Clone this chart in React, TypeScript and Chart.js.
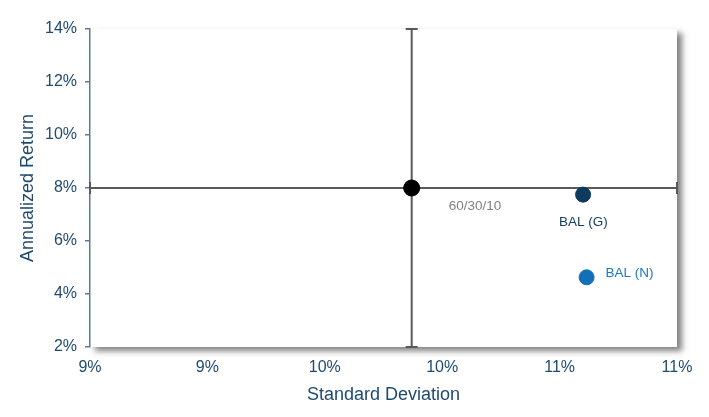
import React, { useEffect, useRef } from "react";
import { Chart, registerables } from "chart.js";

Chart.register(...registerables);

const seriesNames = ["60/30/10", "BAL (G)", "BAL (N)"];
const stdDev = [9.87, 10.6, 10.615];
const annReturn = [8.0, 7.75, 4.63];
const pointColors = ["#000000", "#0e3a5e", "#1270b8"];
const labelColors = ["#808080", "#173f62", "#1f78c0"];
// crosshair (error bar) extents for the 60/30/10 benchmark
const errX = [8.5, 11.0];
const errY = [2, 14];

const xMin = 8.5, xMax = 11.0, xStep = 0.5;
const yMin = 2, yMax = 14, yStep = 2;

const shadowPlugin = {
  id: "areaShadow",
  beforeDraw(chart: any) {
    const { ctx, chartArea } = chart;
    ctx.save();
    ctx.shadowColor = "rgba(0,0,0,0.5)";
    ctx.shadowBlur = 6;
    ctx.shadowOffsetX = 5;
    ctx.shadowOffsetY = 4;
    ctx.fillStyle = "#ffffff";
    ctx.fillRect(chartArea.left, chartArea.top, chartArea.right - chartArea.left, chartArea.bottom - chartArea.top);
    ctx.restore();
  },
};

const crossPlugin = {
  id: "crossBars",
  beforeDatasetsDraw(chart: any) {
    const { ctx, scales } = chart;
    const xs = scales.x, ys = scales.y;
    const cx = xs.getPixelForValue(stdDev[0]);
    const cy = ys.getPixelForValue(annReturn[0]);
    const x0 = xs.getPixelForValue(errX[0]);
    const x1 = xs.getPixelForValue(errX[1]);
    const y0 = ys.getPixelForValue(errY[0]);
    const y1 = ys.getPixelForValue(errY[1]);
    const cap = 6;
    ctx.save();
    ctx.strokeStyle = "#595959";
    ctx.lineWidth = 2;
    ctx.beginPath();
    ctx.moveTo(cx, y0); ctx.lineTo(cx, y1);
    ctx.moveTo(cx - cap, y0); ctx.lineTo(cx + cap, y0);
    ctx.moveTo(cx - cap, y1); ctx.lineTo(cx + cap, y1);
    ctx.moveTo(x0, cy); ctx.lineTo(x1, cy);
    ctx.moveTo(x0, cy - cap); ctx.lineTo(x0, cy + cap);
    ctx.moveTo(x1, cy - cap); ctx.lineTo(x1, cy + cap);
    ctx.stroke();
    ctx.restore();
  },
};

const labelPlugin = {
  id: "pointLabels",
  afterDatasetsDraw(chart: any) {
    const { ctx, scales } = chart;
    const offsets = [
      { dx: 37, dy: 18 },
      { dx: -24, dy: 28 },
      { dx: 19, dy: -4 },
    ];
    ctx.save();
    ctx.font = "13.5px 'Liberation Sans', Arial, sans-serif";
    ctx.textBaseline = "middle";
    ctx.textAlign = "left";
    seriesNames.forEach((name, i) => {
      const px = scales.x.getPixelForValue(stdDev[i]);
      const py = scales.y.getPixelForValue(annReturn[i]);
      ctx.fillStyle = labelColors[i];
      ctx.fillText(name, px + offsets[i].dx, py + offsets[i].dy);
    });
    ctx.restore();
  },
};

export default function App() {
  const ref = useRef<HTMLCanvasElement>(null);
  useEffect(() => {
    document.body.style.margin = "0";
    const font = "'Liberation Sans', Arial, sans-serif";
    const chart = new Chart(ref.current!, {
      type: "scatter",
      data: {
        datasets: seriesNames.map((n, i) => ({
          label: n,
          data: [{ x: stdDev[i], y: annReturn[i] }],
          backgroundColor: pointColors[i],
          borderColor: pointColors[i],
          pointRadius: i === 0 ? 8 : 7.5,
          pointHoverRadius: 7.5,
        })),
      },
      options: {
        animation: false,
        responsive: false,
        maintainAspectRatio: false,
        layout: { padding: { top: 29, right: 32, left: 0, bottom: 0 } },
        plugins: { legend: { display: false }, tooltip: { enabled: false } },
        scales: {
          x: {
            type: "linear",
            min: xMin,
            max: xMax,
            ticks: {
              stepSize: xStep,
              color: "#1f4a70",
              font: { family: font, size: 16 },
              padding: 11,
              callback: (v: any) => Math.round(Number(v)) + "%",
            },
            grid: { display: false, drawTicks: false },
            border: { display: false },
            title: {
              display: true,
              text: "Standard Deviation",
              color: "#1f4a70",
              font: { family: font, size: 18 },
              padding: { top: 4, bottom: 11 },
            },
            afterFit: (s: any) => { s.height = 70; },
          },
          y: {
            type: "linear",
            min: yMin,
            max: yMax,
            ticks: {
              stepSize: yStep,
              color: "#1f4a70",
              font: { family: font, size: 16 },
              padding: 8,
              callback: (v: any) => v + "%",
            },
            grid: { display: true, drawOnChartArea: false, drawTicks: true, tickLength: 5, color: "#5b7a96", lineWidth: 1.5 },
            border: { display: true, color: "#5b7a96", width: 1.5 },
            title: {
              display: true,
              text: "Annualized Return",
              color: "#1f4a70",
              font: { family: font, size: 18 },
              padding: { top: 17, bottom: 0 },
            },
            afterFit: (s: any) => { s.width = 90; },
          },
        },
      },
      plugins: [shadowPlugin, crossPlugin, labelPlugin],
    });
    return () => chart.destroy();
  }, []);
  return (
    <div style={{ width: 709, height: 417 }}>
      <canvas ref={ref} width={709} height={417} style={{ width: 709, height: 417 }} />
    </div>
  );
}
